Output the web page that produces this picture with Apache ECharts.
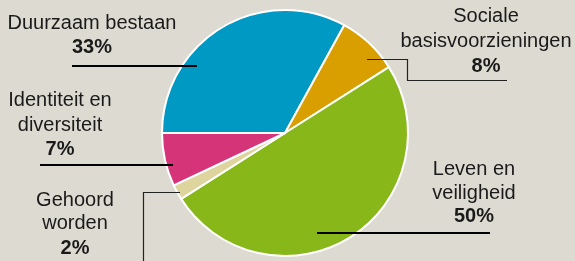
<!DOCTYPE html>
<html>
<head>
<meta charset="utf-8">
<script src="https://cdn.jsdelivr.net/npm/echarts@6/dist/echarts.min.js"></script>
<style>
html,body{margin:0;padding:0;background:#dddbd1;}
#chart{width:575px;height:261px;}
</style>
</head>
<body>
<div id="chart"></div>
<script>
// ---- data ----
const categories = ['Duurzaam bestaan', 'Sociale basisvoorzieningen', 'Leven en veiligheid', 'Gehoord worden', 'Identiteit en diversiteit'];
const values = [33, 8, 50, 2, 7];
const labelNameLines = [
  ['Duurzaam bestaan'],
  ['Sociale', 'basisvoorzieningen'],
  ['Leven en', 'veiligheid'],
  ['Gehoord', 'worden'],
  ['Identiteit en', 'diversiteit']
];
const colors = ['#0099c4', '#d99e00', '#88b719', '#ddd59d', '#d63479'];

// ---- layout (annotation placement) ----
const labelPos = [
  {cx: 92,  baselines: [30.5, 54]},
  {cx: 486, baselines: [23, 48, 73]},
  {cx: 474, baselines: [176, 200, 223]},
  {cx: 75,  baselines: [207, 230, 255]},
  {cx: 60,  baselines: [107, 132, 156]}
];
const leaderLines = [
  {pts: [[72, 66], [197, 66]], w: 2, c: '#000'},
  {pts: [[367, 59.5], [407.5, 59.5], [407.5, 80.5], [507, 80.5]], w: 1.2, c: '#222'},
  {pts: [[317, 233], [490, 233]], w: 2, c: '#000'},
  {pts: [[180, 192.5], [143.5, 192.5], [143.5, 270]], w: 1.2, c: '#222'},
  {pts: [[40, 165], [173, 165]], w: 2, c: '#000'}
];

const graphics = [];
categories.forEach((cat, i) => {
  const lines = labelNameLines[i];
  const pos = labelPos[i];
  lines.forEach((t, j) => {
    graphics.push({
      type: 'text', z: 10,
      style: {
        text: t, x: pos.cx, y: pos.baselines[j] - 7,
        align: 'center', verticalAlign: 'middle',
        font: '20px "Liberation Sans", Arial, sans-serif', fill: '#1a1a1a'
      }
    });
  });
  graphics.push({
    type: 'text', z: 10,
    style: {
      text: values[i] + '%', x: pos.cx, y: pos.baselines[lines.length] - 7,
      align: 'center', verticalAlign: 'middle',
      font: 'bold 20px "Liberation Sans", Arial, sans-serif', fill: '#1a1a1a'
    }
  });
  graphics.push({
    type: 'polyline', z: 10,
    shape: {points: leaderLines[i].pts},
    style: {stroke: leaderLines[i].c, lineWidth: leaderLines[i].w, fill: null}
  });
});

const chart = echarts.init(document.getElementById('chart'), null, {renderer: 'canvas'});
chart.setOption({
  backgroundColor: '#dddbd1',
  animation: false,
  graphic: graphics,
  series: [{
    type: 'pie',
    center: [285, 133],
    radius: [0, 123],
    startAngle: 180,
    clockwise: true,
    avoidLabelOverlap: false,
    label: {show: false},
    labelLine: {show: false},
    emphasis: {disabled: true},
    itemStyle: {borderColor: '#ffffff', borderWidth: 2},
    data: categories.map((c, i) => ({name: c, value: values[i], itemStyle: {color: colors[i]}}))
  }]
});
</script>
</body>
</html>
